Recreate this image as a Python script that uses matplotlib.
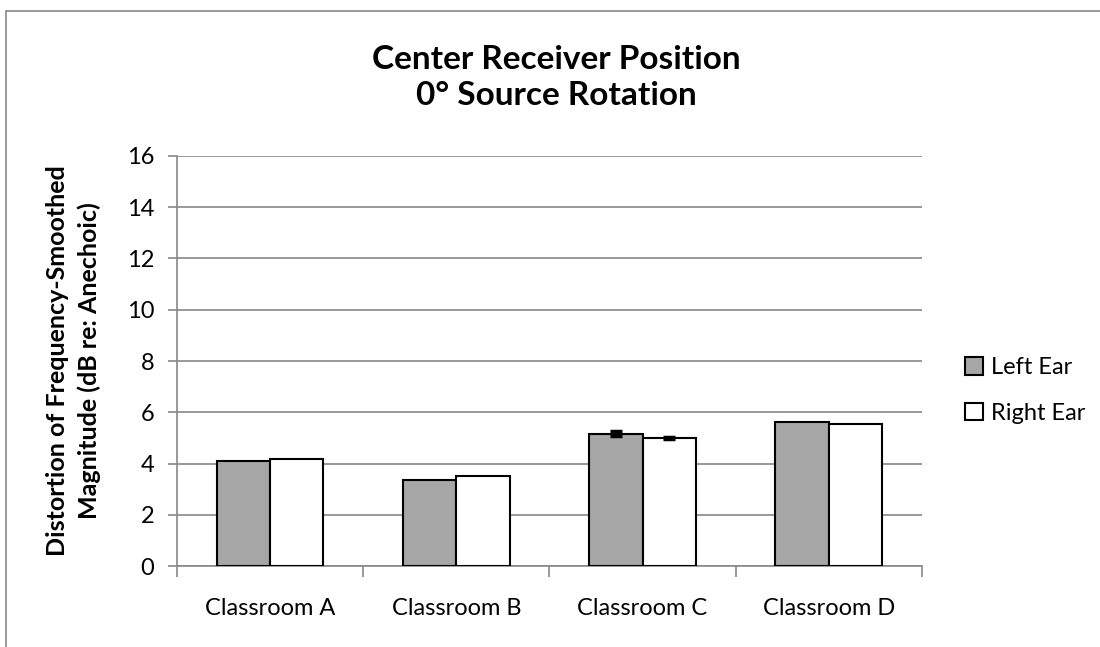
import matplotlib.pyplot as plt
import numpy as np
from matplotlib.patches import Rectangle

plt.rcParams['font.family'] = ['Lato', 'DejaVu Sans']

rooms = ["Classroom A", "Classroom B", "Classroom C", "Classroom D"]
left_ear = [4.11, 3.37, 5.17, 5.62]
right_ear = [4.17, 3.52, 5.00, 5.56]
left_err = [0.0, 0.0, 0.10, 0.0]
right_err = [0.0, 0.0, 0.03, 0.0]

fig = plt.figure(figsize=(11, 6.47), dpi=100)
ax = fig.add_axes([0.161, 0.125, 0.677, 0.634])

# outer chart frame (right and bottom edges fall outside the image)
fig.patches.append(Rectangle((0.005, -0.1), 1.2, 1.083, transform=fig.transFigure,
                             fill=False, edgecolor='#888888', linewidth=1.2))

x = np.arange(len(rooms))
w = 0.286
ax.bar(x - w / 2, left_ear, w, color='#a6a6a6', edgecolor='black', linewidth=1.5,
       label='Left Ear', zorder=3)
ax.bar(x + w / 2, right_ear, w, color='white', edgecolor='black', linewidth=1.5,
       label='Right Ear', zorder=3)

# only draw error bars where there is a spread to show
for offs, vals, errs in [(-w / 2, left_ear, left_err), (w / 2, right_ear, right_err)]:
    errs = np.array(errs)
    keep = errs > 0
    ax.errorbar((x + offs)[keep], np.array(vals)[keep], yerr=errs[keep], fmt='none',
                ecolor='black', elinewidth=1.5, capsize=4.5, capthick=2.5, zorder=4)

ax.set_xlim(-0.5, len(rooms) - 0.5)
ax.set_ylim(0, 16)
ax.set_yticks(range(0, 17, 2))
ax.yaxis.grid(True, color='#888888', linewidth=1.2, zorder=0)

ax.set_xticks(x)
ax.set_xticklabels(rooms, fontsize=17)
ax.tick_params(axis='x', length=0, pad=23)
ax.set_xticks(np.arange(-0.5, len(rooms), 1), minor=True)
ax.tick_params(axis='x', which='minor', length=8, color='#888888', width=1.2)
ax.tick_params(axis='y', labelsize=17, length=6.5, color='#888888', width=1.2, pad=10)

for side in ['top', 'right']:
    ax.spines[side].set_visible(False)
for side in ['left', 'bottom']:
    ax.spines[side].set_color('#888888')
    ax.spines[side].set_linewidth(1.2)

ax.set_ylabel("Distortion of Frequency-Smoothed\nMagnitude (dB re: Anechoic)",
              fontsize=18, fontweight='bold', linespacing=1.45)
ax.yaxis.set_label_coords(-0.102, 0.5)
fig.text(0.506, 0.880, "Center Receiver Position\n0° Source Rotation",
         ha='center', va='center', fontsize=24, fontweight='bold', linespacing=1.3)

ax.legend(loc='center left', bbox_to_anchor=(1.058, 0.428), frameon=False,
          borderaxespad=0, borderpad=0, fontsize=17, handlelength=0.75,
          handleheight=0.75, handletextpad=0.35, labelspacing=1.05)

fig.savefig('out.png', dpi=100)
